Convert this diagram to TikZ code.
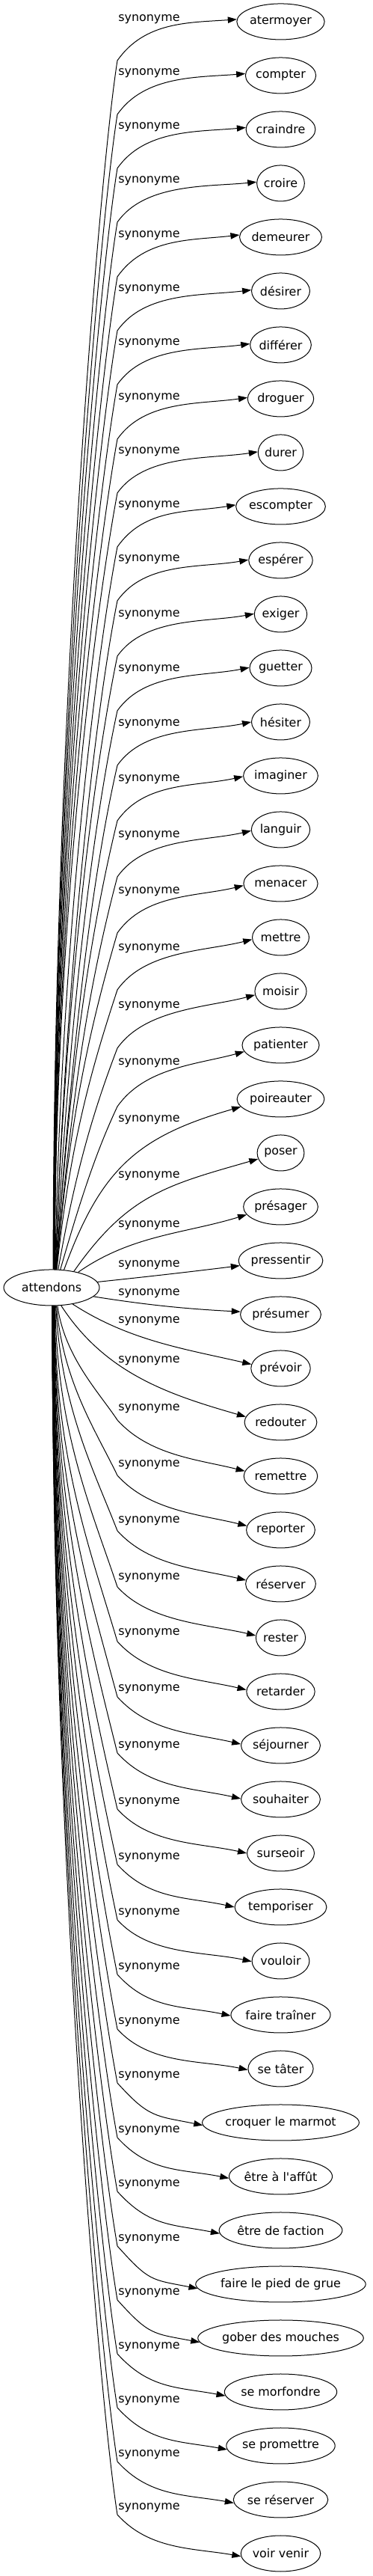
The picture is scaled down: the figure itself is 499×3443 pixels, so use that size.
\documentclass[tikz,border=0pt]{standalone}
\usepackage{fontspec}
\newfontfamily\wordfam{DejaVu Sans}
\usetikzlibrary{arrows.meta}
\usetikzlibrary{calc}
\usetikzlibrary{shapes.geometric}

% one reference pixel = 0.25pt
\newcommand{\wordfont}{\wordfam\fontsize{3.975pt}{4.75pt}\selectfont}
\newlength{\wordwd}

\tikzset{
  word/.style={draw, ellipse, line width=0.25pt, inner sep=0pt, minimum height=12pt, font=\wordfont},
  syn/.style={inner sep=0pt, font=\wordfont},
  edge/.style={-{Triangle[length=3pt, width=2.1pt]}, line width=0.25pt},
}

\begin{document}
\begin{tikzpicture}[x=0.25pt, y=0.25pt]

\useasboundingbox (0,0) rectangle (499,3443);

\node[word, minimum width=32pt] (attendons) at (69,1722) {attendons};

% targets, labels and bend points
\foreach \lbl/\d/\m [count=\k from 0] in {atermoyer/-3/55, compter/-3/55, craindre/-3/55, croire/-3/55,
    demeurer/-2/55, désirer/-2/55, différer/-2/55, droguer/-1/55, durer/-1/55, escompter/-1/55,
    espérer/-1/55, exiger/1/55, guetter/2/55, hésiter/3/55, imaginer/5/55, languir/8/55,
    menacer/11/55, mettre/15/55, moisir/20/56, patienter/24/58, poireauter/28/0, poser/31/0,
    présager/25/0, pressentir/6/0, présumer/-28/0, prévoir/-63/0, redouter/-82/0,
    remettre/-90/15, reporter/-87/14, réserver/-84/13, rester/-80/12, retarder/-78/11,
    séjourner/-75/10, souhaiter/-71/9, surseoir/-68/9, temporiser/-66/9, vouloir/-64/9,
    faire traîner/-63/9, se tâter/-62/9, croquer le marmot/-62/9,
    être à l'affût/-61/9, être de faction/-61/9, faire le pied de grue/-60/9,
    gober des mouches/-60/9, se morfondre/-60/9, se promettre/-60/9, se réserver/-60/9,
    voir venir/-61/9} {
  \pgfmathsetmacro\ty{3414-72*\k}
  \pgfmathsetmacro\ly{\ty-(\d)}
  \pgfmathsetmacro\my{\ly-(\m)}
  \settowidth{\wordwd}{\wordfont\lbl}
  \node[word, minimum width=1.22*\wordwd+8.5pt] (t\k) at (375.5,\ty) {\lbl};
  \node[syn] (s\k) at (199.5,\ly) {synonyme};
  \coordinate (m\k) at (157,\my);
}

% upper edges
\foreach \k/\sa/\ta in {0/85/177, 1/84/177, 2/84/177, 3/83/177, 4/82/177, 5/82/178, 6/81/178,
    7/80/178, 8/80/178, 9/79/178, 10/78/179, 11/78/179, 12/77/179, 13/76/180, 14/76/181,
    15/75/182, 16/75/183, 17/74/184, 18/70/188, 19/64/190} {
  \draw[edge] let \p1=(attendons.\sa), \p2=(m\k),
      \n1={scalar(atan((\x2-\x1)/(\y2-\y1)))}, \n2={scalar(abs(\y2-\y1))},
      \n3={min(90,\sa+10)}, \n4={264-\n1}, \n5={min(55,79-\n1)}, \n6={184+0.6*\k},
      \n7={0.45*\n2*1pt}, \n8={min(37.5,0.3*\n2)*1pt} in
    (\p1) to[out=\n3, in=\n4, out distance=\n7, in distance=\n8] (m\k)
          to[out=\n5, in=\n6, out distance=16pt, in distance=16pt] (t\k.\ta);
}

% edges near attendons
\draw[edge] (attendons.55) to[out=70, in=196, out distance=36pt, in distance=36pt] (t20.191);
\draw[edge] (attendons.36) to[out=55, in=196, out distance=31.5pt, in distance=31.5pt] (t21.195);
\draw[edge] (attendons.30) to[out=35, in=197, out distance=21.75pt, in distance=21.75pt] (t22.193);
\draw[edge] (attendons.7) to[out=6, in=187, out distance=17.5pt, in distance=17.5pt] (t23.187);
\draw[edge] (attendons.-12) to[out=-9, in=177, out distance=18.25pt, in distance=18.25pt] (t24.176);
\draw[edge] (attendons.-38) to[out=-33, in=167, out distance=22.5pt, in distance=22.5pt] (t25.172);
\draw[edge] (attendons.-62) to[out=-57, in=164, out distance=27pt, in distance=27pt] (t26.171);

% lower edges
\foreach \k/\sa/\ta in {27/-72/172, 28/-75/173, 29/-77/174, 30/-79/175, 31/-80/177, 32/-81/178,
    33/-82/179, 34/-83/180, 35/-84/180, 36/-84/181, 37/-85/181, 38/-85/182, 39/-86/182,
    40/-86/182, 41/-87/183, 42/-87/183, 43/-87/183, 44/-88/184, 45/-88/184, 46/-88/184,
    47/-88/184} {
  \draw[edge] let \p1=(attendons.\sa), \p2=(m\k),
      \n1={scalar(atan((\x2-\x1)/(\y2-\y1)))}, \n2={scalar(abs(\y2-\y1))},
      \n3={max(-90,\sa-10)}, \n4={96-\n1}, \n5={max(-48,-79-\n1)}, \n6={166+0.2*(\k-27)},
      \n7={0.45*\n2*1pt}, \n8={min(37.5,0.3*\n2)*1pt} in
    (\p1) to[out=\n3, in=\n4, out distance=\n7, in distance=\n8] (m\k)
          to[out=\n5, in=\n6, out distance=16pt, in distance=16pt] (t\k.\ta);
}

\end{tikzpicture}
\end{document}
